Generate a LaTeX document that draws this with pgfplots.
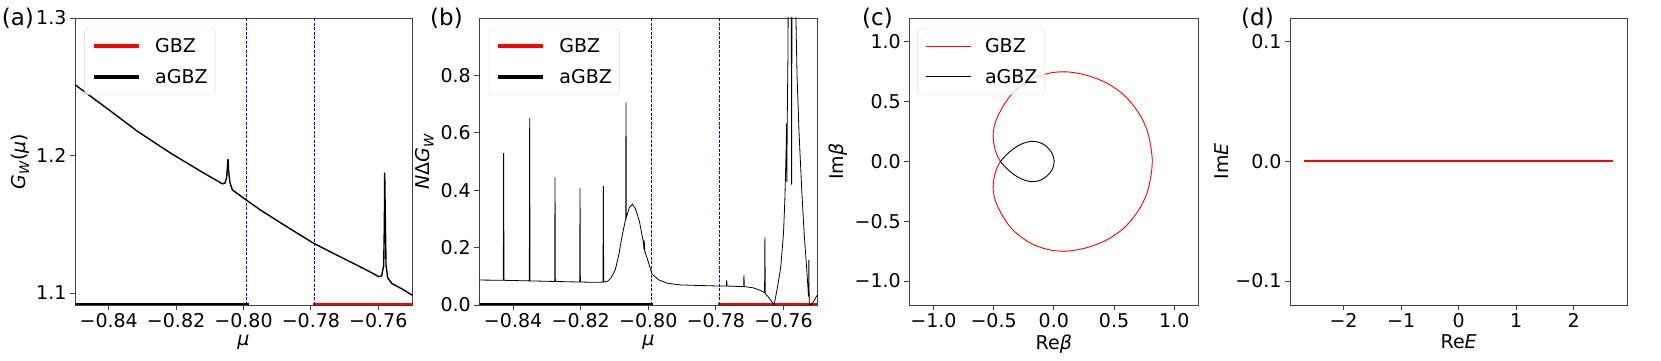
\documentclass[border=0pt]{standalone}
\usepackage{fontspec}
\setmainfont{DejaVu Sans}
\setsansfont{DejaVu Sans}
\usepackage{pgfplots}
\pgfplotsset{compat=1.18}
\newcommand\fs{\fontsize{19}{22}\selectfont}
\newcommand\fl{\fontsize{23}{27}\selectfont}

\pgfplotsset{
  panel/.style={
    scale only axis, width=337pt, height=287pt,
    anchor=south west,
    axis line style={black!75, line width=0.9pt},
    tick style={black!75, line width=0.9pt},
    major tick length=5pt,
    tick align=outside, tick pos=left,
    ticklabel style={font=\fs},
    label style={font=\fs},
    legend cell align=left,
    legend style={at={(0.028,0.964)}, anchor=north west, draw=black!15,
      fill=white, fill opacity=0.8, draw opacity=1, text opacity=1,
      rounded corners=3pt, font=\fs, inner xsep=7.5pt, inner ysep=10pt,
      nodes={inner sep=0pt}, column sep=14pt, row sep=15pt},
    legend image code/.code={\draw[##1] (0pt,0pt) -- (45pt,0pt);},
  },
}

\begin{document}
\begin{tikzpicture}
\path[use as bounding box] (0,0) rectangle (1661pt,361pt);

% (a)
\begin{axis}[panel, at={(75pt,56pt)},
  xmin=-0.85, xmax=-0.75, ymin=1.0913, ymax=1.3,
  xtick={-0.84,-0.82,-0.80,-0.78,-0.76},
  xticklabels={−0.84,−0.82,−0.80,−0.78,−0.76},
  ytick={1.1,1.2,1.3}, yticklabels={1.1,1.2,1.3},
  xlabel={\textit{μ}}, ylabel={\textit{G}\textsubscript{\textit{W}}(\textit{μ})}]
\addplot[red, line width=4pt] coordinates {(-0.7795,1.0913) (-0.75,1.0913)};
\addlegendentry{GBZ}
\addplot[black, line width=4pt] coordinates {(-0.85,1.0913) (-0.7985,1.0913)};
\addlegendentry{aGBZ}
\addplot[blue, line width=1pt, dash pattern=on 3pt off 1.5pt, forget plot] coordinates {(-0.799,1.0913) (-0.799,1.3)};
\addplot[blue, line width=1pt, dash pattern=on 3pt off 1.5pt, forget plot] coordinates {(-0.779,1.0913) (-0.779,1.3)};
\addplot[black, line width=1.4pt, forget plot] table {
x y
-0.8500 1.2515
-0.8413 1.2357
-0.8314 1.2175
-0.8216 1.2017
-0.8117 1.1871
-0.8075 1.1812
-0.8063 1.1794
-0.8055 1.1800
-0.8050 1.1840
-0.8047 1.1940
-0.8046 1.1976
-0.8044 1.1880
-0.8040 1.1800
-0.8033 1.1750
-0.7999 1.1689
-0.7950 1.1604
-0.7870 1.1480
-0.7792 1.1362
-0.7720 1.1272
-0.7654 1.1191
-0.7610 1.1135
-0.7600 1.1119
-0.7590 1.1125
-0.7584 1.1200
-0.7582 1.1500
-0.7581 1.1876
-0.7579 1.1500
-0.7577 1.1200
-0.7572 1.1110
-0.7560 1.1070
-0.7530 1.1030
-0.7500 1.0985
};
\end{axis}

% (b)
\begin{axis}[panel, at={(479.3pt,56pt)}, width=338pt,
  xmin=-0.85, xmax=-0.75, ymin=0, ymax=1.0,
  xtick={-0.84,-0.82,-0.80,-0.78,-0.76},
  xticklabels={−0.84,−0.82,−0.80,−0.78,−0.76},
  ytick={0,0.2,0.4,0.6,0.8}, yticklabels={0.0,0.2,0.4,0.6,0.8},
  xlabel={\textit{μ}}, ylabel={\textit{N}Δ\textit{G}\textsubscript{\textit{W}}}]
\addplot[red, line width=4pt] coordinates {(-0.7795,0) (-0.75,0)};
\addlegendentry{GBZ}
\addplot[black, line width=4pt] coordinates {(-0.85,0) (-0.7985,0)};
\addlegendentry{aGBZ}
\addplot[blue, line width=1pt, dash pattern=on 3pt off 1.5pt, forget plot] coordinates {(-0.799,0) (-0.799,1)};
\addplot[blue, line width=1pt, dash pattern=on 3pt off 1.5pt, forget plot] coordinates {(-0.779,0) (-0.779,1)};
\addplot[black, line width=0.8pt, forget plot] table {
x y
-0.8500 0.087
-0.8429 0.086
-0.8428 0.529
-0.8427 0.086
-0.8352 0.084
-0.8351 0.651
-0.8350 0.084
-0.8277 0.082
-0.8276 0.445
-0.8275 0.082
-0.8203 0.080
-0.8202 0.407
-0.8201 0.080
-0.8150 0.079
-0.8134 0.080
-0.8133 0.415
-0.8132 0.080
-0.8120 0.083
-0.8110 0.095
-0.8098 0.122
-0.8088 0.170
-0.8078 0.238
-0.8067 0.300
-0.8066 0.706
-0.8065 0.305
-0.8056 0.340
-0.8047 0.351
-0.8038 0.335
-0.8026 0.290
-0.8014 0.215
-0.8013 0.195
-0.8012 0.225
-0.8011 0.190
-0.8000 0.150
-0.7989 0.108
-0.7970 0.088
-0.7944 0.076
-0.7905 0.070
-0.7850 0.068
-0.7789 0.066
-0.7769 0.066
-0.7768 0.087
-0.7767 0.066
-0.7718 0.064
-0.7717 0.105
-0.7716 0.064
-0.7690 0.060
-0.7670 0.052
-0.7656 0.043
-0.7655 0.236
-0.7654 0.040
-0.7645 0.028
-0.7636 0.014
-0.7628 0.000
-0.7618 0.060
-0.7608 0.134
-0.7600 0.250
-0.7596 0.366
-0.7592 0.550
-0.7591 0.633
-0.7590 0.428
-0.7589 0.640
-0.7587 0.850
-0.7586 1.050
-0.7577 1.050
-0.7576 0.419
-0.7575 1.050
-0.7564 1.050
-0.7560 0.800
-0.7554 0.599
-0.7546 0.400
-0.7539 0.250
-0.7531 0.120
-0.7526 0.030
-0.7525 0.157
-0.7524 0.003
-0.7518 0.000
-0.7508 0.018
-0.7500 0.035
};
\end{axis}

% (c)
\begin{axis}[panel, at={(909.3pt,56pt)}, width=289pt,
  xmin=-1.2, xmax=1.2, ymin=-1.2, ymax=1.2,
  xtick={-1,-0.5,0,0.5,1}, xticklabels={−1.0,−0.5,0.0,0.5,1.0},
  ytick={-1,-0.5,0,0.5,1}, yticklabels={−1.0,−0.5,0.0,0.5,1.0},
  xlabel={Re\textit{β}}, ylabel={Im\textit{β}}]
\addplot[red, line width=0.9pt, smooth, tension=0.5] table {
x y
-0.443 0.000
-0.470 0.050
-0.490 0.110
-0.502 0.180
-0.503 0.240
-0.488 0.320
-0.455 0.400
-0.416 0.470
-0.360 0.550
-0.291 0.617
-0.210 0.673
-0.125 0.713
-0.015 0.743
0.097 0.750
0.200 0.738
0.300 0.713
0.400 0.675
0.471 0.638
0.560 0.575
0.640 0.495
0.721 0.380
0.775 0.260
0.805 0.130
0.818 0.000
0.805 -0.130
0.775 -0.260
0.721 -0.380
0.640 -0.495
0.560 -0.575
0.471 -0.638
0.400 -0.675
0.300 -0.713
0.200 -0.738
0.097 -0.750
-0.015 -0.743
-0.125 -0.713
-0.210 -0.673
-0.291 -0.617
-0.360 -0.550
-0.416 -0.470
-0.455 -0.400
-0.488 -0.320
-0.503 -0.240
-0.502 -0.180
-0.490 -0.110
-0.470 -0.050
-0.443 0.000
};
\addlegendentry{GBZ}
\addplot[black, line width=0.9pt, smooth, tension=0.5] table {
x y
-0.443 0.000
-0.400 0.050
-0.330 0.110
-0.260 0.150
-0.190 0.168
-0.120 0.160
-0.060 0.125
-0.015 0.070
0.003 0.000
-0.015 -0.070
-0.060 -0.125
-0.120 -0.160
-0.190 -0.168
-0.260 -0.150
-0.330 -0.110
-0.400 -0.050
-0.443 0.000
};
\addlegendentry{aGBZ}
\end{axis}

% (d)
\begin{axis}[panel, at={(1290pt,56pt)}, width=337.3pt,
  xmin=-2.93, xmax=2.93, ymin=-0.12, ymax=0.12,
  xtick={-2,-1,0,1,2}, xticklabels={−2,−1,0,1,2},
  ytick={-0.1,0,0.1}, yticklabels={−0.1,0.0,0.1},
  xlabel={Re\textit{E}}, ylabel={Im\textit{E}}]
\addplot[red, line width=2pt] coordinates {(-2.68,0) (2.68,0)};
\end{axis}

\node[anchor=base west, inner sep=0pt, font=\fl] at (1.7pt,335pt) {(a)};
\node[anchor=base west, inner sep=0pt, font=\fl] at (430pt,335pt) {(b)};
\node[anchor=base west, inner sep=0pt, font=\fl] at (862pt,335pt) {(c)};
\node[anchor=base west, inner sep=0pt, font=\fl] at (1241pt,335pt) {(d)};
\end{tikzpicture}
\end{document}
